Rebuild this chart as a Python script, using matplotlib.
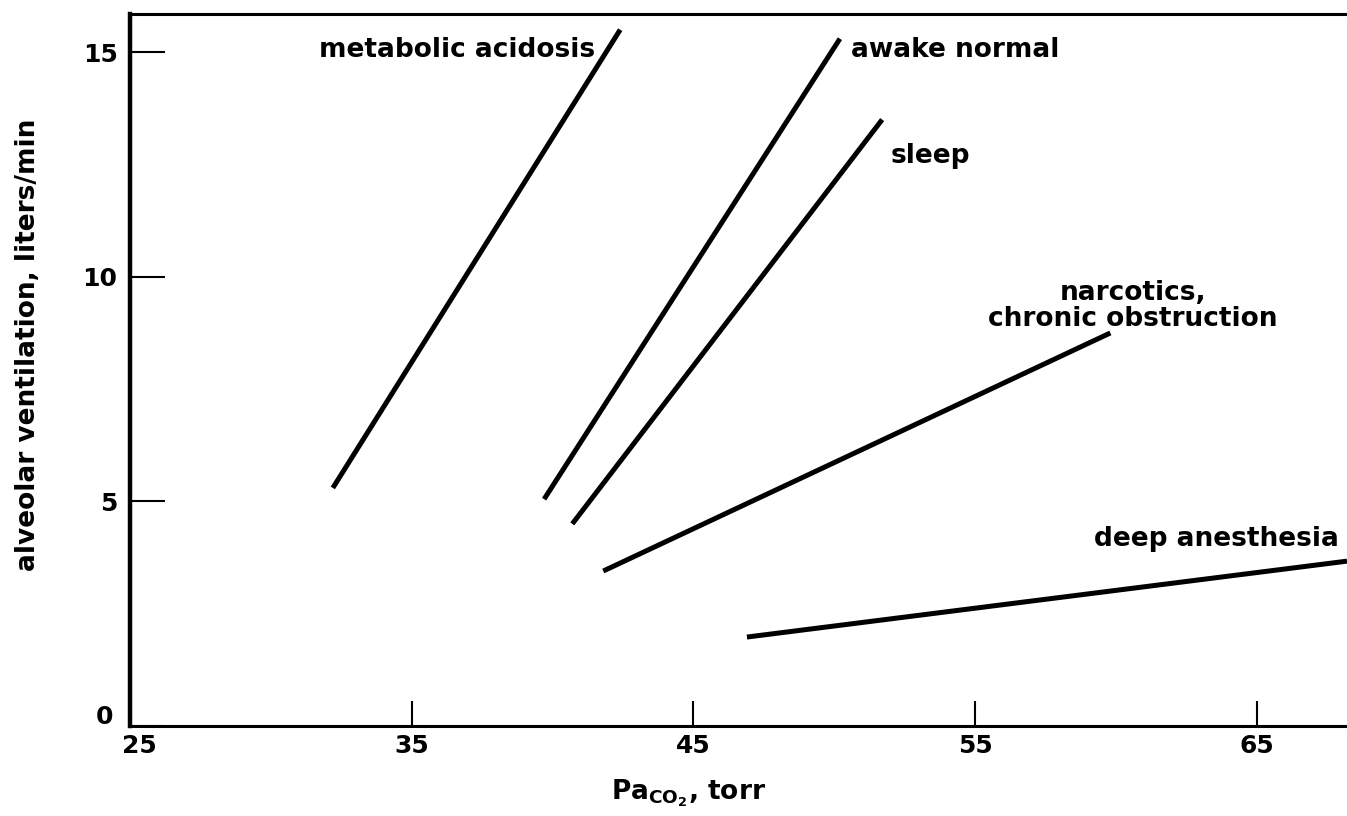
import matplotlib
matplotlib.use("Agg")
import matplotlib.pyplot as plt
from matplotlib.transforms import ScaledTranslation

plt.rcParams['font.family'] = ['DejaVu Sans']
plt.rcParams['font.weight'] = 'bold'
plt.rcParams['mathtext.fontset'] = 'dejavusans'
plt.rcParams['mathtext.default'] = 'bf'

# Data: each curve is a straight line (start, end) in (PaCO2 torr, ventilation L/min)
labels = ["metabolic acidosis", "awake normal", "sleep",
          "narcotics,\nchronic obstruction", "deep anesthesia"]
x_start = [32.2, 39.7, 40.7, 41.8, 46.9]
x_end   = [42.4, 50.2, 51.7, 59.8, 68.2]
y_start = [5.3, 5.05, 4.5, 3.45, 1.98]
y_end   = [15.5, 15.3, 13.5, 8.75, 3.67]

x_ticks = [25, 35, 45, 55, 65]
y_ticks = [0, 5, 10, 15]

fig = plt.figure(figsize=(13.47, 8.16), dpi=100)
ax = fig.add_axes([130/1347, 90/816, 1217/1347, 712/816])

for xs, xe, ys, ye in zip(x_start, x_end, y_start, y_end):
    ax.plot([xs, xe], [ys, ye], color='black', linewidth=3.6, solid_capstyle='butt')

ax.set_xlim(25, 68.2)
ax.set_ylim(0, 15.85)
ax.set_xticks(x_ticks)
ax.set_yticks(y_ticks)
ax.tick_params(axis='x', direction='in', length=18, width=1.5, pad=6, labelsize=18)
ax.tick_params(axis='y', direction='in', length=25, width=1.5, pad=9, labelsize=18)
for lab in ax.get_xticklabels() + ax.get_yticklabels():
    lab.set_fontweight('bold')

# nudge corner labels apart like in the reference
fig.canvas.draw()
ylab0 = ax.get_yticklabels()[0]
ylab0.set_transform(ylab0.get_transform() + ScaledTranslation(-3/72, 8/72, fig.dpi_scale_trans))
xlab0 = ax.get_xticklabels()[0]
xlab0.set_transform(xlab0.get_transform() + ScaledTranslation(7/72, 0, fig.dpi_scale_trans))

ax.spines['right'].set_visible(False)
ax.spines['left'].set_linewidth(3.2)
ax.spines['top'].set_linewidth(2.2)
ax.spines['bottom'].set_linewidth(2.2)

# curve labels
fs = 19
ax.text(41.5, 15.05, labels[0], ha='right', va='center', fontsize=fs, fontweight='bold')
ax.text(50.6, 15.05, labels[1], ha='left', va='center', fontsize=fs, fontweight='bold')
ax.text(52.0, 12.7, labels[2], ha='left', va='center', fontsize=fs, fontweight='bold')
ax.text(60.6, 9.35, labels[3], ha='center', va='center', fontsize=fs, fontweight='bold',
        linespacing=1.0)
ax.text(67.9, 4.16, labels[4], ha='right', va='center', fontsize=fs, fontweight='bold')

fig.text(688/1347, 1 - 793/816, r'Pa$_{\mathbf{CO_2}}$, torr', ha='center', va='center',
         fontsize=19, fontweight='bold')
fig.text(28/1347, 1 - 345/816, 'alveolar ventilation, liters/min', ha='center', va='center',
         rotation=90, fontsize=19, fontweight='bold')

fig.savefig('out.png', dpi=100, facecolor='white')
